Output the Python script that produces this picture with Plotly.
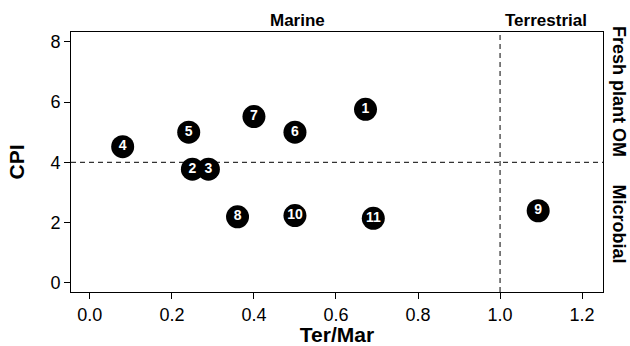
import plotly.graph_objects as go

labels = ["1", "2", "3", "4", "5", "6", "7", "8", "9", "10", "11"]
ter_mar = [0.672, 0.250, 0.289, 0.080, 0.241, 0.500, 0.400, 0.360, 1.093, 0.500, 0.691]
cpi = [5.76, 3.77, 3.77, 4.52, 5.00, 5.00, 5.52, 2.19, 2.39, 2.23, 2.14]

x_ticks = [0.0, 0.2, 0.4, 0.6, 0.8, 1.0, 1.2]
y_ticks = [0, 2, 4, 6, 8]
cpi_threshold = 4
ter_threshold = 1.0

FONT = "Liberation Sans, Arial, sans-serif"

fig = go.Figure()
fig.add_trace(go.Scatter(
    x=ter_mar, y=cpi, mode="markers+text", text=["<b>%s</b>" % l for l in labels],
    textposition="middle center",
    marker=dict(size=23, color="black", line=dict(width=0)),
    textfont=dict(color="white", size=14, family=FONT),
    cliponaxis=False, showlegend=False, hoverinfo="skip",
))

fig.add_shape(type="line", xref="paper", yref="y", x0=0, x1=1, y0=cpi_threshold, y1=cpi_threshold,
              line=dict(color="black", width=1, dash="5px,4px"))
fig.add_shape(type="line", xref="x", yref="paper", x0=ter_threshold, x1=ter_threshold, y0=0, y1=1,
              line=dict(color="black", width=1, dash="5px,4px"))

top_font = dict(family=FONT, size=17, color="black")
side_font = dict(family=FONT, size=18, color="black")
fig.add_annotation(text="<b>Marine</b>", x=0.505, xref="x", y=1.0, yref="paper",
                   yanchor="bottom", xanchor="center", yshift=0, showarrow=False, font=top_font)
fig.add_annotation(text="<b>Terrestrial</b>", x=1.112, xref="x", y=1.0, yref="paper",
                   yanchor="bottom", xanchor="center", yshift=0, showarrow=False, font=top_font)
fig.add_annotation(text="<b>Fresh plant OM</b>", x=1.0, xref="paper", xshift=16, y=6.37, yref="y",
                   xanchor="center", yanchor="middle", textangle=90, showarrow=False, font=side_font)
fig.add_annotation(text="<b>Microbial</b>", x=1.0, xref="paper", xshift=16, y=1.97, yref="y",
                   xanchor="center", yanchor="middle", textangle=90, showarrow=False, font=side_font)

axis_common = dict(
    showline=True, linecolor="black", linewidth=1, mirror=True,
    ticks="outside", ticklen=6, tickcolor="black", tickwidth=1,
    showgrid=False, zeroline=False, automargin=False,
    tickfont=dict(family=FONT, size=18, color="black"),
)
fig.update_xaxes(range=[-0.046, 1.251], tickvals=x_ticks, ticktext=["%.1f" % v for v in x_ticks],
                 title=dict(text="<b>Ter/Mar</b>", font=dict(family=FONT, size=21, color="black"), standoff=2),
                 **axis_common)
fig.update_yaxes(range=[-0.31, 8.33], tickvals=y_ticks, ticktext=[str(v) for v in y_ticks],
                 title=dict(text="<b>CPI</b>", font=dict(family=FONT, size=21, color="black"), standoff=20),
                 **axis_common)

fig.update_layout(
    width=630, height=346,
    margin=dict(l=71, r=27, t=32, b=54),
    plot_bgcolor="white", paper_bgcolor="white",
    font=dict(family=FONT, color="black"),
)

fig.write_html("out.html")
